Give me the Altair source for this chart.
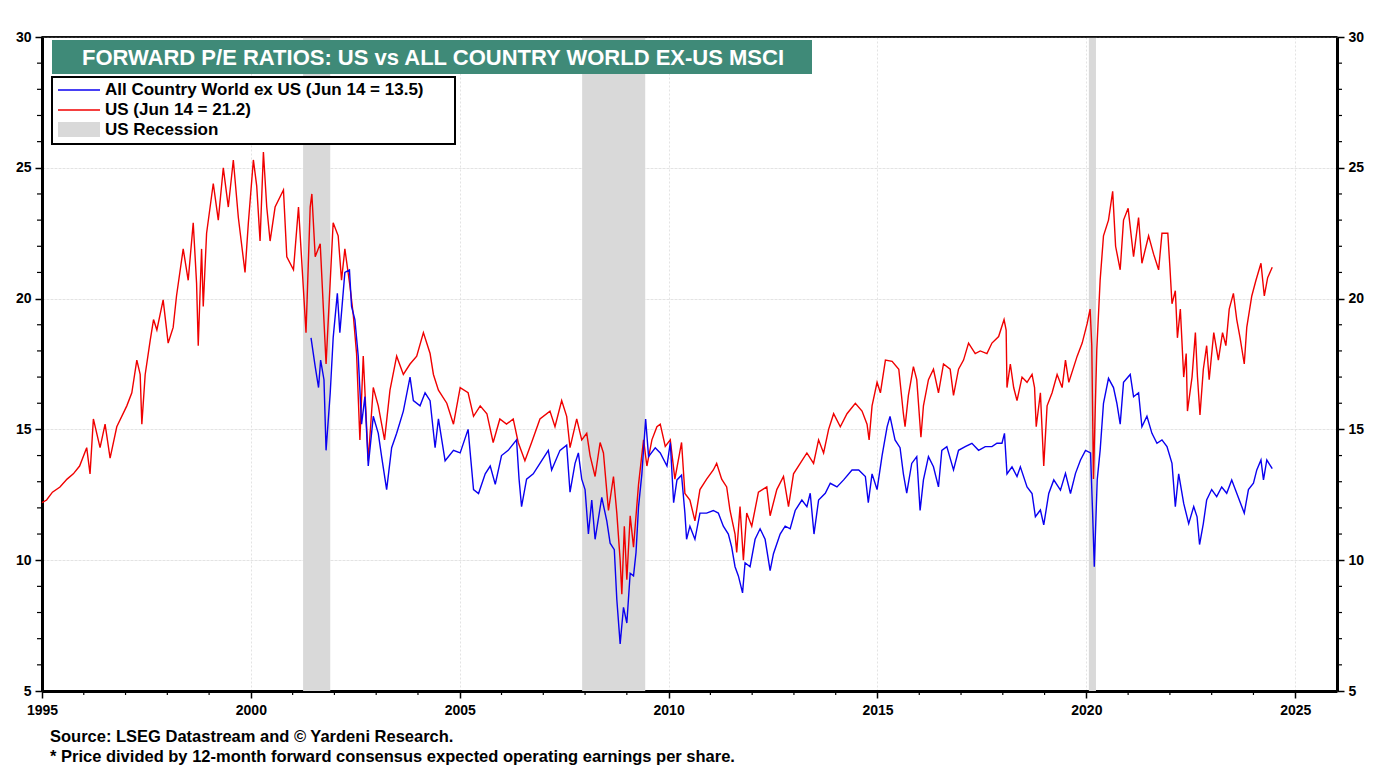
import altair as alt
import pandas as pd

# ---------------- data ----------------
us_years = [1995.0, 1995.11, 1995.25, 1995.43, 1995.6, 1995.75, 1995.9, 1996.07, 1996.15, 1996.23,
            1996.39, 1996.51, 1996.63, 1996.79, 1997.03, 1997.15, 1997.27, 1997.35, 1997.39, 1997.47,
            1997.59, 1997.67, 1997.75, 1997.9, 1998.02, 1998.14, 1998.22, 1998.38, 1998.5, 1998.62,
            1998.7, 1998.74, 1998.82, 1998.86, 1998.94, 1999.1, 1999.22, 1999.34, 1999.46, 1999.58,
            1999.7, 1999.86, 1999.94, 2000.06, 2000.14, 2000.22, 2000.3, 2000.38, 2000.46, 2000.58,
            2000.78, 2000.86, 2001.02, 2001.14, 2001.26, 2001.32, 2001.42, 2001.46, 2001.54, 2001.66,
            2001.8, 2001.97, 2002.09, 2002.17, 2002.25, 2002.37, 2002.45, 2002.53, 2002.61, 2002.69,
            2002.81, 2002.93, 2003.05, 2003.2, 2003.33, 2003.49, 2003.65, 2003.81, 2003.97, 2004.13,
            2004.29, 2004.37, 2004.49, 2004.69, 2004.85, 2005.01, 2005.2, 2005.33, 2005.49, 2005.65,
            2005.8, 2005.96, 2006.12, 2006.28, 2006.4, 2006.56, 2006.72, 2006.92, 2007.16, 2007.28,
            2007.44, 2007.56, 2007.64, 2007.8, 2007.92, 2008.04, 2008.12, 2008.24, 2008.36, 2008.44,
            2008.56, 2008.68, 2008.76, 2008.84, 2008.88, 2008.94, 2009.0, 2009.08, 2009.16, 2009.28,
            2009.4, 2009.48, 2009.6, 2009.72, 2009.8, 2009.92, 2010.04, 2010.15, 2010.31, 2010.39,
            2010.51, 2010.63, 2010.75, 2010.91, 2011.07, 2011.15, 2011.27, 2011.39, 2011.47, 2011.59,
            2011.63, 2011.71, 2011.79, 2011.87, 2011.99, 2012.15, 2012.35, 2012.43, 2012.59, 2012.75,
            2012.87, 2012.99, 2013.15, 2013.31, 2013.47, 2013.59, 2013.71, 2013.83, 2013.95, 2014.11,
            2014.27, 2014.47, 2014.63, 2014.75, 2014.8, 2014.87, 2014.99, 2015.07, 2015.19, 2015.35,
            2015.51, 2015.62, 2015.66, 2015.74, 2015.86, 2015.94, 2016.04, 2016.1, 2016.22, 2016.34,
            2016.46, 2016.58, 2016.74, 2016.82, 2016.94, 2017.06, 2017.18, 2017.34, 2017.46, 2017.62,
            2017.74, 2017.9, 2018.03, 2018.08, 2018.1, 2018.18, 2018.26, 2018.34, 2018.46, 2018.58,
            2018.7, 2018.76, 2018.8, 2018.9, 2018.98, 2019.06, 2019.18, 2019.3, 2019.42, 2019.5,
            2019.58, 2019.7, 2019.78, 2019.9, 2020.02, 2020.09, 2020.13, 2020.17, 2020.21, 2020.25,
            2020.33, 2020.41, 2020.53, 2020.63, 2020.7, 2020.81, 2020.89, 2021.0, 2021.13, 2021.25,
            2021.33, 2021.49, 2021.61, 2021.73, 2021.81, 2021.95, 2022.0, 2022.05, 2022.13, 2022.18,
            2022.25, 2022.33, 2022.39, 2022.42, 2022.53, 2022.61, 2022.66, 2022.72, 2022.8, 2022.88,
            2022.94, 2023.05, 2023.16, 2023.26, 2023.34, 2023.42, 2023.52, 2023.6, 2023.68, 2023.78,
            2023.84, 2023.96, 2024.06, 2024.18, 2024.26, 2024.34, 2024.45]
us_values = [12.2, 12.3, 12.6, 12.8, 13.1, 13.3, 13.6, 14.3, 13.3, 15.4,
             14.3, 15.2, 13.9, 15.1, 15.9, 16.4, 17.65, 17.1, 15.2, 17.1,
             18.4, 19.2, 18.8, 19.95, 18.3, 18.9, 20.1, 21.9, 20.7, 22.9,
             20.6, 18.2, 21.9, 19.7, 22.5, 24.4, 23.0, 25.0, 23.5, 25.3,
             23.1, 21.0, 22.9, 25.3, 24.3, 22.2, 25.6, 23.5, 22.2, 23.5,
             24.15, 21.6, 21.1, 23.5, 20.3, 18.7, 23.5, 24.0, 21.6, 22.1,
             17.5, 22.9, 22.4, 20.7, 21.9, 20.5, 19.4, 17.9, 14.6, 17.8,
             13.8, 16.6, 15.9, 14.6, 16.5, 17.8, 17.1, 17.5, 17.8, 18.7,
             17.9, 17.1, 16.5, 16.0, 15.2, 16.6, 16.4, 15.5, 15.9, 15.6,
             14.5, 15.4, 15.2, 15.4, 14.5, 13.8, 14.5, 15.4, 15.7, 15.1,
             16.1, 15.5, 14.3, 15.4, 14.6, 14.85, 14.0, 13.2, 14.5, 14.1,
             11.9, 13.2, 11.8, 10.0, 8.7, 11.3, 9.25, 11.7, 10.5, 12.9,
             14.6, 13.6, 14.6, 15.1, 15.2, 14.35, 14.6, 13.1, 14.5, 12.55,
             12.3, 11.5, 12.7, 13.1, 13.45, 13.7, 13.1, 12.8, 11.9, 11.0,
             10.3, 12.05, 10.0, 11.8, 11.3, 12.6, 12.8, 11.7, 12.7, 13.2,
             12.05, 13.3, 13.7, 14.1, 13.7, 14.6, 14.1, 15.0, 15.6, 15.1,
             15.6, 16.0, 15.7, 15.2, 14.6, 15.9, 16.8, 16.4, 17.65, 17.6,
             17.3, 15.6, 15.1, 16.3, 17.4, 16.9, 14.7, 15.9, 16.9, 17.3,
             16.4, 17.5, 17.3, 16.3, 17.3, 17.65, 18.3, 17.9, 18.0, 17.9,
             18.3, 18.55, 19.2, 18.8, 16.6, 17.5, 16.6, 16.1, 17.0, 16.8,
             17.1, 16.6, 15.1, 16.4, 13.6, 15.9, 16.4, 17.1, 16.6, 17.65,
             16.8, 17.4, 17.8, 18.3, 19.05, 19.6, 18.2, 13.1, 15.6, 18.05,
             20.7, 22.4, 23.0, 24.1, 22.0, 21.1, 23.0, 23.45, 21.6, 23.1,
             21.35, 22.4, 21.7, 21.1, 22.5, 22.5, 21.2, 19.8, 20.3, 18.5,
             19.6, 17.0, 17.9, 15.7, 17.0, 18.7, 17.0, 15.55, 17.3, 18.2,
             16.9, 18.7, 17.65, 18.7, 18.2, 19.6, 20.2, 19.2, 18.5, 17.5,
             18.9, 20.1, 20.7, 21.35, 20.1, 20.8, 21.2]

acwi_years = [2001.44, 2001.54, 2001.62, 2001.67, 2001.75, 2001.8, 2001.9, 2001.97, 2002.07, 2002.13,
              2002.25, 2002.36, 2002.41, 2002.49, 2002.57, 2002.65, 2002.73, 2002.81, 2002.93, 2003.05,
              2003.13, 2003.25, 2003.37, 2003.49, 2003.65, 2003.81, 2003.89, 2004.05, 2004.17, 2004.29,
              2004.41, 2004.49, 2004.65, 2004.85, 2005.01, 2005.2, 2005.33, 2005.45, 2005.61, 2005.73,
              2005.85, 2006.0, 2006.16, 2006.36, 2006.42, 2006.48, 2006.6, 2006.76, 2006.92, 2007.12,
              2007.2, 2007.4, 2007.56, 2007.64, 2007.76, 2007.84, 2007.92, 2008.0, 2008.08, 2008.16,
              2008.24, 2008.4, 2008.52, 2008.6, 2008.7, 2008.76, 2008.84, 2008.92, 2009.0, 2009.08,
              2009.16, 2009.22, 2009.28, 2009.36, 2009.45, 2009.52, 2009.68, 2009.8, 2009.96, 2010.04,
              2010.12, 2010.2, 2010.31, 2010.39, 2010.43, 2010.51, 2010.63, 2010.75, 2010.91, 2011.07,
              2011.19, 2011.31, 2011.43, 2011.51, 2011.59, 2011.67, 2011.77, 2011.83, 2011.95, 2012.07,
              2012.19, 2012.31, 2012.43, 2012.51, 2012.67, 2012.79, 2012.91, 2013.03, 2013.19, 2013.31,
              2013.39, 2013.48, 2013.59, 2013.75, 2013.87, 2014.03, 2014.19, 2014.39, 2014.55, 2014.71,
              2014.78, 2014.87, 2014.99, 2015.11, 2015.23, 2015.3, 2015.42, 2015.54, 2015.62, 2015.7,
              2015.82, 2015.94, 2016.02, 2016.1, 2016.22, 2016.34, 2016.46, 2016.54, 2016.66, 2016.82,
              2016.94, 2017.1, 2017.26, 2017.42, 2017.58, 2017.74, 2017.86, 2017.98, 2018.04, 2018.1,
              2018.22, 2018.34, 2018.42, 2018.58, 2018.7, 2018.78, 2018.9, 2018.98, 2019.1, 2019.22,
              2019.38, 2019.5, 2019.62, 2019.74, 2019.86, 2019.98, 2020.1, 2020.15, 2020.19, 2020.26,
              2020.33, 2020.41, 2020.53, 2020.65, 2020.73, 2020.81, 2020.89, 2021.05, 2021.13, 2021.25,
              2021.33, 2021.45, 2021.57, 2021.69, 2021.81, 2021.93, 2022.05, 2022.13, 2022.21, 2022.33,
              2022.45, 2022.57, 2022.65, 2022.71, 2022.8, 2022.88, 2023.0, 2023.12, 2023.24, 2023.36,
              2023.48, 2023.6, 2023.72, 2023.78, 2023.88, 2024.0, 2024.08, 2024.18, 2024.24, 2024.32,
              2024.45]
acwi_values = [18.5, 17.4, 16.6, 17.65, 16.9, 14.2, 16.4, 18.5, 20.2, 18.7,
               21.0, 21.1, 19.7, 19.2, 17.8, 15.2, 16.25, 13.6, 15.5, 14.85,
               13.96, 12.7, 14.3, 14.85, 15.7, 17.0, 16.1, 15.9, 16.4, 16.1,
               14.3, 15.4, 13.8, 14.2, 14.1, 15.0, 12.7, 12.55, 13.3, 13.6,
               12.9, 14.0, 14.2, 14.6, 13.1, 12.05, 13.1, 13.3, 13.7, 14.2,
               13.45, 14.2, 14.4, 12.6, 13.7, 14.1, 13.1, 12.7, 11.0, 12.3,
               10.8, 12.4, 11.5, 10.65, 10.4, 8.5, 6.8, 8.2, 7.6, 9.5,
               9.4, 10.3, 12.05, 13.3, 15.4, 13.96, 14.3, 14.1, 13.6, 14.5,
               12.2, 13.07, 13.25, 11.8, 10.8, 11.3, 10.8, 11.8, 11.8, 11.9,
               11.8, 11.3, 11.0, 10.5, 9.75, 9.4, 8.75, 9.9, 9.75, 10.8,
               11.2, 10.8, 9.6, 10.25, 11.0, 11.3, 11.2, 11.9, 12.3, 12.05,
               12.56, 11.0, 12.3, 12.56, 12.94, 12.8, 13.07, 13.45, 13.45, 13.2,
               12.2, 13.3, 12.7, 14.0, 15.1, 15.5, 14.6, 14.3, 13.3, 12.56,
               13.7, 13.96, 11.9, 13.07, 13.96, 13.57, 12.8, 14.2, 14.34, 13.45,
               14.2, 14.34, 14.47, 14.2, 14.34, 14.34, 14.47, 14.47, 14.85, 13.3,
               13.57, 13.2, 13.57, 12.8, 12.55, 11.66, 11.92, 11.35, 12.55, 13.07,
               12.68, 13.32, 12.55, 13.32, 13.83, 14.2, 14.1, 11.8, 9.75, 13.07,
               14.2, 16.0, 16.95, 16.6, 16.0, 15.2, 16.8, 17.1, 16.25, 16.4,
               15.1, 15.5, 14.85, 14.47, 14.6, 14.34, 13.7, 12.05, 13.3, 12.17,
               11.4, 12.05, 11.66, 10.6, 11.4, 12.3, 12.7, 12.43, 12.8, 12.56,
               13.07, 12.56, 12.05, 11.8, 12.7, 12.94, 13.45, 13.83, 13.07, 13.83,
               13.5]

recession_start = [2001.25, 2007.93, 2020.06]
recession_end = [2001.9, 2009.44, 2020.23]

x_major = [1995, 2000, 2005, 2010, 2015, 2020, 2025]
y_major = [5, 10, 15, 20, 25, 30]
x_minor = [y for y in range(1996, 2026) if y % 5 != 0]
y_minor = [v for v in range(6, 30) if v % 5 != 0]

title_text = "FORWARD P/E RATIOS: US vs ALL COUNTRY WORLD EX-US MSCI"
legend_labels = ["All Country World ex US (Jun 14 = 13.5)", "US (Jun 14 = 21.2)", "US Recession"]
source_lines = ["Source: LSEG Datastream and \u00a9 Yardeni Research.",
                "* Price divided by 12-month forward consensus expected operating earnings per share."]

# ---------------- chart ----------------
W, H = 1295, 654
FONT = "Liberation Sans"
BLUE = "#0a00f0"
RED = "#f00000"

us_df = pd.DataFrame({"year": us_years, "pe": us_values})
acwi_df = pd.DataFrame({"year": acwi_years, "pe": acwi_values})
rec_df = pd.DataFrame({"start": recession_start, "end": recession_end})
xminor_df = pd.DataFrame({"year": x_minor})
yminor_df = pd.DataFrame({"pe": y_minor})
one = pd.DataFrame({"a": [0]})

xscale = alt.Scale(domain=[1995, 2026], nice=False, zero=False)
yscale = alt.Scale(domain=[5, 30], nice=False, zero=False)
xaxis = alt.Axis(values=x_major, format="d", title=None, grid=True, tickSize=7, tickWidth=1.5,
                 domainWidth=3, labelPadding=5, labelFlush=False, labelOverlap=False)


def yaxis(orient):
    return alt.Axis(values=y_major, format="d", title=None, grid=True, orient=orient, tickSize=7,
                    tickWidth=1.5, domainWidth=3, labelPadding=4, labelFlush=False)


rec = alt.Chart(rec_df).mark_rect(color="#d9d9d9").encode(
    x=alt.X("start:Q", scale=xscale, axis=xaxis), x2="end:Q")

us_line = alt.Chart(us_df).mark_line(color=RED, strokeWidth=1.4).encode(
    x=alt.X("year:Q", scale=xscale, axis=xaxis),
    y=alt.Y("pe:Q", scale=yscale, axis=yaxis("left")))

acwi_line = alt.Chart(acwi_df).mark_line(color=BLUE, strokeWidth=1.4).encode(
    x=alt.X("year:Q", scale=xscale, axis=xaxis),
    y=alt.Y("pe:Q", scale=yscale, axis=yaxis("right")))

xminor = alt.Chart(xminor_df).mark_rule(color="black", strokeWidth=1.2).encode(
    x=alt.X("year:Q", scale=xscale, axis=xaxis), y=alt.value(H), y2=alt.value(H + 4))

yminor_l = alt.Chart(yminor_df).mark_rule(color="black", strokeWidth=1.2).encode(
    y=alt.Y("pe:Q", scale=yscale, axis=None), x=alt.value(-5), x2=alt.value(0))
yminor_r = alt.Chart(yminor_df).mark_rule(color="black", strokeWidth=1.2).encode(
    y=alt.Y("pe:Q", scale=yscale, axis=None), x=alt.value(W), x2=alt.value(W + 5))

# solid top frame line
top_line = alt.Chart(one).mark_rule(color="black", strokeWidth=1.5).encode(
    x=alt.value(0), x2=alt.value(W), y=alt.value(0))

# title banner
title_box = alt.Chart(one).mark_rect(color="#3f8a78").encode(
    x=alt.value(10), x2=alt.value(770), y=alt.value(3), y2=alt.value(37))
title_txt = alt.Chart(one).mark_text(font=FONT, fontSize=22, fontWeight="bold", color="white",
                                     align="center", baseline="middle").encode(
    x=alt.value(391), y=alt.value(21), text=alt.value(title_text))

# legend
leg_box = alt.Chart(one).mark_rect(fill="white", stroke="black", strokeWidth=2).encode(
    x=alt.value(10), x2=alt.value(413), y=alt.value(40), y2=alt.value(107))
leg_blue = alt.Chart(one).mark_rule(color=BLUE, strokeWidth=1.5).encode(
    x=alt.value(16), x2=alt.value(58), y=alt.value(53))
leg_red = alt.Chart(one).mark_rule(color=RED, strokeWidth=1.5).encode(
    x=alt.value(16), x2=alt.value(58), y=alt.value(73))
leg_grey = alt.Chart(one).mark_rect(color="#d9d9d9").encode(
    x=alt.value(16), x2=alt.value(58), y=alt.value(85), y2=alt.value(100))
leg_texts = []
for i, lab in enumerate(legend_labels):
    leg_texts.append(alt.Chart(one).mark_text(font=FONT, fontSize=17, fontWeight="bold", color="black",
                                              align="left", baseline="middle").encode(
        x=alt.value(63), y=alt.value(53 + 20 * i), text=alt.value(lab)))

src_texts = []
for i, s in enumerate(source_lines):
    src_texts.append(alt.Chart(one).mark_text(font=FONT, fontSize=16.5, fontWeight="bold", color="black",
                                              align="left", baseline="middle").encode(
        x=alt.value(8), y=alt.value(700 + 20 * i), text=alt.value(s)))

chart = alt.layer(
    rec, us_line, acwi_line, xminor, yminor_l, yminor_r, top_line,
    title_box, title_txt, leg_box, leg_blue, leg_red, leg_grey, *leg_texts, *src_texts
).resolve_axis(y="independent").properties(
    width=W, height=H,
    padding={"left": 34, "top": 29, "right": 32, "bottom": 78},
    autosize=alt.AutoSizeParams(type="none"),
    background="white",
).configure_axis(
    labelFont=FONT, labelFontSize=14, labelFontWeight="bold", labelColor="black",
    domainColor="black", tickColor="black", gridColor="#e3e3e3", gridDash=[2, 2], gridWidth=1,
).configure_view(stroke="black", strokeWidth=1.5)

chart.save("out.html", embed_options={"renderer": "svg", "actions": False})
